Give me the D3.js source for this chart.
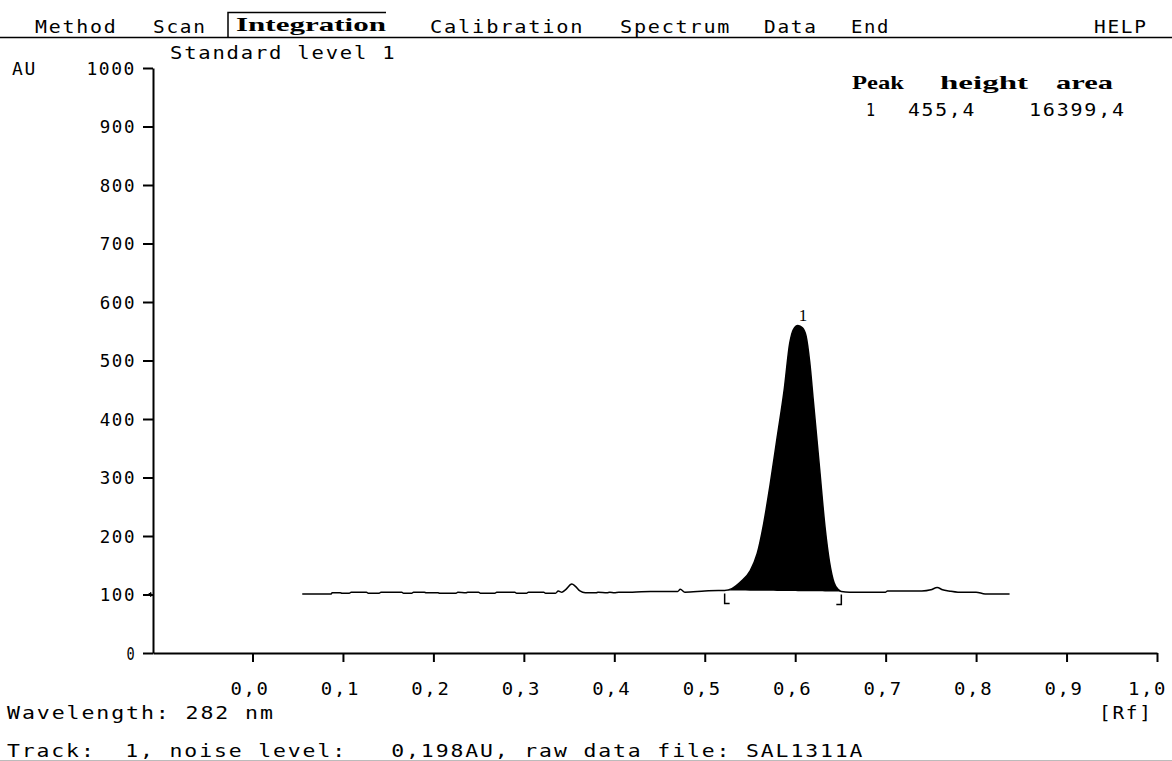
<!DOCTYPE html>
<html>
<head>
<meta charset="utf-8">
<script src="https://cdn.jsdelivr.net/npm/d3@7"></script>
<style>
  body { margin: 0; background: #fff; }
  svg { display: block; }
  .mono { font-family: "DejaVu Sans Mono", monospace; font-size: 17px; letter-spacing: 1.5px; fill: #000; }
  .bold { font-family: "Liberation Serif", serif; font-weight: bold; font-size: 19px; fill: #000; }
</style>
</head>
<body>
<div id="chart"></div>
<script>
// Data

const yTicks = [0, 100, 200, 300, 400, 500, 600, 700, 800, 900, 1000];
const xTicks = [0.0, 0.1, 0.2, 0.3, 0.4, 0.5, 0.6, 0.7, 0.8, 0.9, 1.0];

const menuItems = ["Method", "Scan", "Integration", "Calibration", "Spectrum", "Data", "End", "HELP"];
const menuX = [35, 153, 236, 430, 620, 764, 851, 1094];

// densitogram trace, Rf vs AU
const traceRf = [
  0.055, 0.087, 0.088, 0.097, 0.099, 0.107, 0.109, 0.126, 0.128, 0.140,
  0.142, 0.165, 0.167, 0.176, 0.178, 0.190, 0.192, 0.205, 0.207, 0.225,
  0.227, 0.236, 0.238, 0.250, 0.252, 0.268, 0.270, 0.290, 0.292, 0.303,
  0.305, 0.322, 0.324, 0.335, 0.338, 0.342, 0.346, 0.353, 0.357, 0.362,
  0.368, 0.380, 0.382, 0.392, 0.395, 0.400, 0.405, 0.420, 0.440, 0.470,
  0.473, 0.478, 0.500, 0.515, 0.522, 0.530, 0.540, 0.550, 0.558, 0.565,
  0.572, 0.580, 0.588, 0.594, 0.598, 0.603, 0.608, 0.612, 0.616, 0.620,
  0.627, 0.633, 0.638, 0.643, 0.648, 0.651, 0.660, 0.690, 0.700, 0.702,
  0.720, 0.740, 0.750, 0.757, 0.763, 0.770, 0.780, 0.795, 0.800, 0.810,
  0.837
];
const traceAU = [
  101, 101, 103, 103, 102, 102, 104, 104, 102, 102,
  104, 104, 102, 102, 104, 104, 103, 103, 102, 102,
  104, 103, 104, 104, 102, 102, 104, 104, 102, 102,
  104, 104, 102, 102, 106, 104, 108, 118, 114, 106,
  103, 103, 104, 103, 104, 103, 104, 104, 105, 105,
  109, 104, 106, 107, 107, 110, 122, 140, 170, 220,
  285, 368, 452, 530, 553, 560, 556, 542, 498, 432,
  315, 215, 155, 120, 108, 105, 104, 104, 104, 106,
  106, 106, 108, 112, 108, 106, 104, 104, 104, 101,
  101
];

// integrated peak
const peakNo = [1];
const peakStart = [0.522];
const peakEnd = [0.651];
const peakHeight = ["455,4"];
const peakArea = ["16399,4"];

// Dimensions

const width = 1172, height = 761;
const plot = { left: 153, right: 1157, top: 68, bottom: 653 };
const ADV = 14.4; // character cell of the screen font

const svg = d3.select("#chart").append("svg")
  .attr("width", width)
  .attr("height", height);

svg.append("rect").attr("width", width).attr("height", height).attr("fill", "#fff");

const x = d3.scaleLinear().domain([-0.11, 1.0]).range([plot.left, plot.right]);
const y = d3.scaleLinear().domain([0, 1000]).range([plot.bottom, plot.top]);

const comma = d => d3.format(".1f")(d).replace(".", ",");

// stretch a text to the fixed character cell
const cell = (sel, adv = ADV) => sel.each(function () {
  d3.select(this)
    .attr("textLength", this.textContent.length * adv - 4)
    .attr("lengthAdjust", "spacingAndGlyphs");
});

const monoText = (txt, px, py, adv = ADV) =>
  svg.append("text").attr("class", "mono")
    .attr("x", px).attr("y", py)
    .style("white-space", "pre")
    .text(txt)
    .call(cell, adv);

// Menu bar

svg.append("line")
  .attr("x1", 0).attr("x2", width)
  .attr("y1", 37.5).attr("y2", 37.5)
  .attr("stroke", "#000").attr("stroke-width", 1.5);

menuItems.forEach((m, i) => {
  if (m === "Integration") {
    svg.append("path")
      .attr("d", `M${menuX[i] - 8},37 V12.5 H${menuX[i] + 150}`)
      .attr("fill", "none").attr("stroke", "#000").attr("stroke-width", 1.5);
    svg.append("text").attr("class", "bold")
      .attr("x", menuX[i]).attr("y", 31)
      .attr("textLength", 150).attr("lengthAdjust", "spacingAndGlyphs")
      .text(m);
  } else {
    monoText(m, menuX[i], 33);
  }
});

// Axes

const yAxis = svg.append("g")
  .attr("transform", `translate(${plot.left},0)`)
  .call(d3.axisLeft(y).tickValues(yTicks).tickSize(10).tickSizeOuter(0).tickPadding(7).tickFormat(d => d));

const xAxis = svg.append("g")
  .attr("transform", `translate(0,${plot.bottom})`)
  .call(d3.axisBottom(x).tickValues(xTicks).tickSize(9).tickSizeOuter(0).tickFormat(comma));

[yAxis, xAxis].forEach(g => {
  g.select(".domain").attr("stroke-width", 2);
  g.selectAll(".tick line").attr("stroke-width", 2);
  g.selectAll(".tick text")
    .attr("class", "mono")
    .attr("font-family", null)
    .attr("font-size", null);
});
yAxis.selectAll(".tick text").call(cell, 13.4).attr("dy", "0.36em");
xAxis.selectAll(".tick text").call(cell)
  .attr("y", 42).attr("dy", 0)
  .attr("dx", (d, i, n) => (i === n.length - 1 ? -10 : -3));

// baseline marker on the y axis
svg.append("path")
  .attr("d", `M${plot.left - 5},${y(100)} l3,-2 v4 z`)
  .attr("fill", "#000").attr("stroke", "#000");

// Labels

monoText("AU", 12, 75);
monoText("Standard level 1", 170, 59);
monoText("[Rf]", 1099, 719);
monoText("Wavelength: 282 nm", 7, 719, 15.1);
monoText("Track:  1, noise level:   0,198AU, raw data file: SAL1311A", 7, 757, 14.85);

svg.append("line")
  .attr("x1", 0).attr("x2", width).attr("y1", 760.5).attr("y2", 760.5)
  .attr("stroke", "#bbb").attr("stroke-width", 1);

// Peak table
[["Peak", 852, 52], ["height", 940, 88], ["area", 1056, 57]].forEach(([t, px, w]) => {
  svg.append("text").attr("class", "bold")
    .attr("x", px).attr("y", 89)
    .attr("textLength", w).attr("lengthAdjust", "spacingAndGlyphs")
    .text(t);
});
peakNo.forEach((p, i) => {
  monoText(String(p), 866, 116 + i * 27);
  monoText(peakHeight[i], 908, 116 + i * 27);
  monoText(peakArea[i], 1029, 116 + i * 27);
});

// Trace

const trace = traceRf.map((r, i) => ({ rf: r, au: traceAU[i] }));

peakNo.forEach((p, i) => {
  const seg = trace.filter(d => d.rf >= peakStart[i] && d.rf <= peakEnd[i]);
  const b0 = seg[0].au, b1 = seg[seg.length - 1].au;
  const base = d => b0 + (b1 - b0) * (d.rf - peakStart[i]) / (peakEnd[i] - peakStart[i]);
  svg.append("path")
    .datum(seg)
    .attr("d", d3.area().x(d => x(d.rf)).y0(d => y(base(d))).y1(d => y(d.au)).curve(d3.curveMonotoneX))
    .attr("fill", "#000");

  // integration brackets
  const xs = x(peakStart[i]), xe = x(peakEnd[i]);
  svg.append("path")
    .attr("d", `M${xs},${y(b0) + 3} V${y(b0) + 13} H${xs + 5}`)
    .attr("fill", "none").attr("stroke", "#000").attr("stroke-width", 1.5);
  svg.append("path")
    .attr("d", `M${xe},${y(b1) + 3} V${y(b1) + 13} H${xe - 5}`)
    .attr("fill", "none").attr("stroke", "#000").attr("stroke-width", 1.5);

  // peak number over the apex
  const apex = seg.reduce((a, b) => (b.au > a.au ? b : a));
  svg.append("text")
    .attr("x", x(apex.rf) + 5).attr("y", y(apex.au) - 4)
    .attr("text-anchor", "middle")
    .attr("font-family", "Liberation Serif, serif").attr("font-size", 17)
    .text(p);
});

svg.append("path")
  .datum(trace)
  .attr("d", d3.line().x(d => x(d.rf)).y(d => y(d.au)).curve(d3.curveMonotoneX))
  .attr("fill", "none")
  .attr("stroke", "#000")
  .attr("stroke-width", 1.5);
</script>
</body>
</html>
